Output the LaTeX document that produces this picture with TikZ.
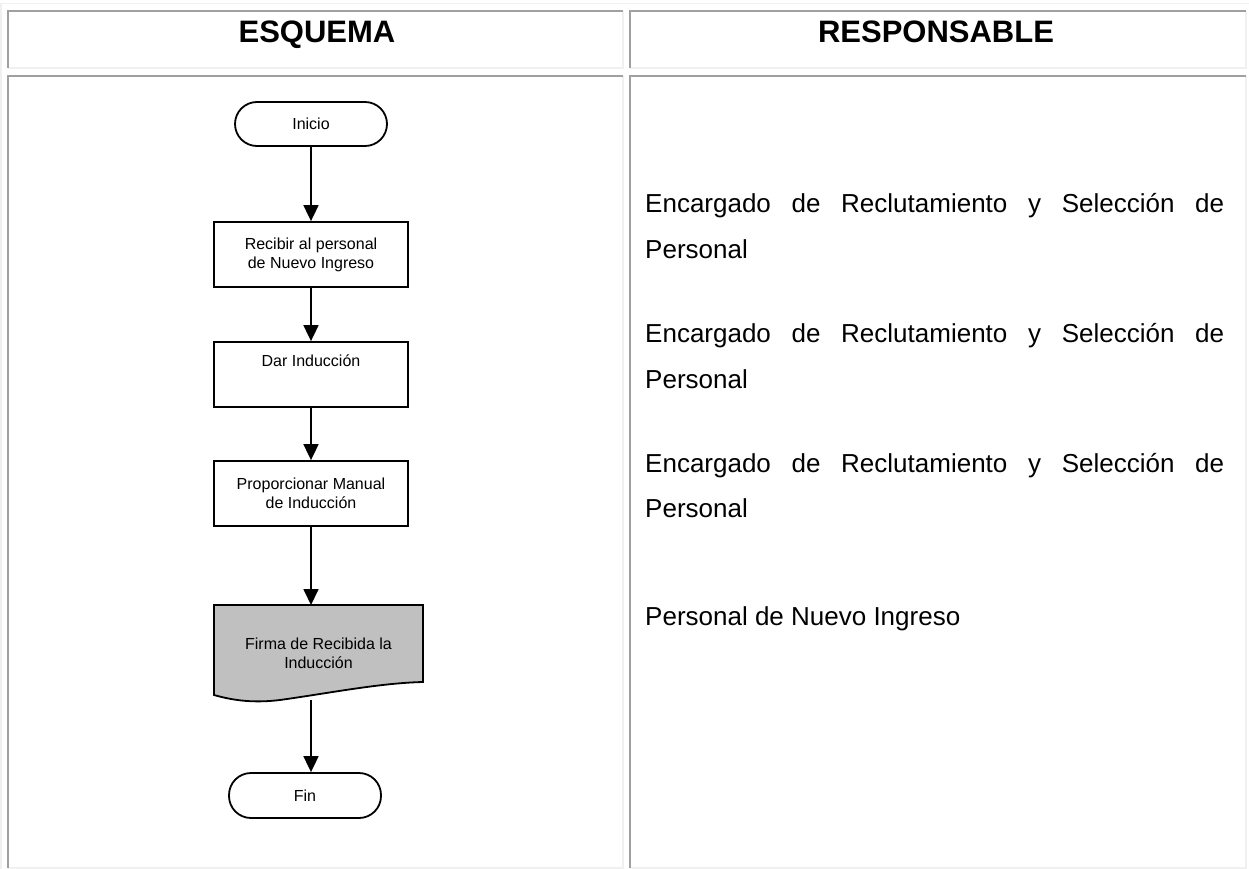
\documentclass[tikz,border=0pt]{standalone}
\usepackage{fontspec}
\setmainfont{Liberation Sans}
\usetikzlibrary{arrows.meta}
\definecolor{cellgray}{HTML}{A0A0A0}
\definecolor{celllight}{HTML}{F0F0F0}
\definecolor{docfill}{HTML}{C0C0C0}

% one table cell with an inset border: dark top/left, light bottom/right
\newcommand\insetcell[4]{%
  \draw[celllight,line width=2pt] (#1,#4) -- (#3,#4) -- (#3,#2);
  \draw[cellgray,line width=2pt] (#1,#4) -- (#1,#2) -- (#3,#2);
}

\begin{document}
\begin{tikzpicture}[x=1pt,y=-1pt,
  hdr/.style={font=\fontsize{31}{37}\selectfont\bfseries, inner sep=0pt, anchor=base},
  resp/.style={font=\fontsize{26}{46}\selectfont, inner sep=0pt, anchor=base west},
  flow/.style={draw=black, line width=1.8pt, font=\fontsize{16}{19}\selectfont, align=center, inner sep=0pt},
  proc/.style={flow, rectangle, minimum width=194pt, minimum height=65pt},
  term/.style={flow, rounded corners=22pt, minimum width=152pt, minimum height=44pt},
  arr/.style={line width=1.8pt, -{Triangle[length=16pt,width=15pt]}},
]
\useasboundingbox (0,0) rectangle (1249,869);
\fill[white] (0,0) rectangle (1249,869);

% outer table frame
\draw[celllight,line width=1.6pt] (0,3.6) -- (1249,3.6);
\draw[celllight,line width=2pt] (1,3) -- (1,869);

% cells
\insetcell{7.7}{10.8}{623.2}{67.7}
\insetcell{629.7}{10.8}{1245.7}{67.7}
\insetcell{7.7}{76.3}{623.2}{868}
\insetcell{629.7}{76.3}{1245.7}{868}

% headers
\node[hdr] (hesq) at (317,43) {ESQUEMA};
\node[hdr] (hres) at (936,43) {RESPONSABLE};

% flowchart
\node[term] (ini) at (311,124) {Inicio};
\node[proc] (b1) at (311,254.5) {Recibir al personal\\de Nuevo Ingreso};
\node[proc, text height=12pt, text depth=29pt] (b2) at (311,374.5) {Dar Inducción};
\node[proc] (b3) at (311,493.5) {Proporcionar Manual\\de Inducción};

% document symbol
\draw[line width=1.8pt, fill=docfill] (214,605) -- (423,605) -- (423,682)
  .. controls (380,683) and (330,693) .. (280,700)
  .. controls (255,703) and (235,701) .. (214,695) -- cycle;
\node[flow, draw=none] (doc) at (318.5,653.5) {Firma de Recibida la\\Inducción};
\coordinate (doctop) at (311,605);
\coordinate (docbot) at (311,700);

\node[term, minimum height=45pt] (fin) at (305,795.5) {Fin};

\draw[arr] (ini) -- (b1);
\draw[arr] (b1) -- (b2);
\draw[arr] (b2) -- (b3);
\draw[arr] (b3) -- (doctop);
\draw[arr] (docbot) -- (docbot |- fin.north);

% responsables
\node[resp] (r1a) at (645,212) {\makebox[579pt][s]{Encargado de Reclutamiento y Selección de}};
\node[resp] (r1b) at (645,258) {Personal};
\node[resp] (r2a) at (645,342) {\makebox[579pt][s]{Encargado de Reclutamiento y Selección de}};
\node[resp] (r2b) at (645,388) {Personal};
\node[resp] (r3a) at (645,472) {\makebox[579pt][s]{Encargado de Reclutamiento y Selección de}};
\node[resp] (r3b) at (645,517) {Personal};
\node[resp] (r4a) at (645,625) {Personal de Nuevo Ingreso};
\end{tikzpicture}
\end{document}
